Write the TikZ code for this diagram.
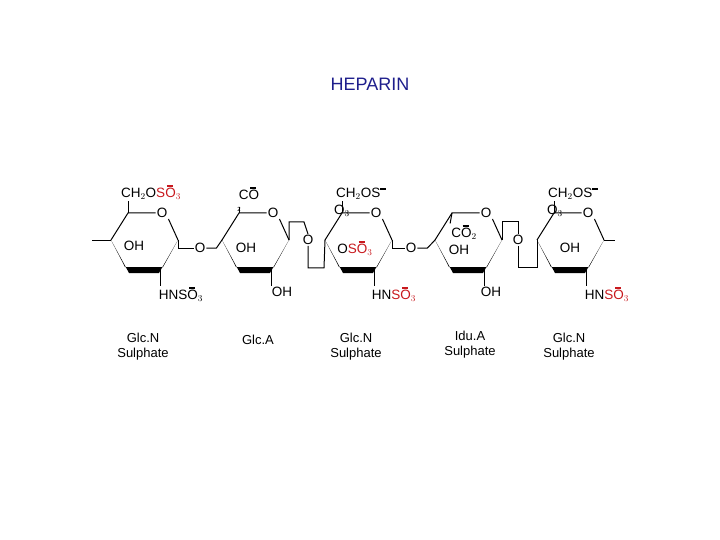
\documentclass[tikz,border=0pt]{standalone}
\usepackage{fontspec}
\setmainfont{Liberation Sans}
\definecolor{ttl}{HTML}{1E1E8C}
\definecolor{rd}{HTML}{C8191E}
\newcommand\bO{\makebox[0pt][l]{\hspace{0.12em}\raisebox{0.78em}{\rule{0.45em}{2pt}}}O}
\newcommand\mS{S\raisebox{0.55em}{\rule{0.4em}{2pt}}}
\newcommand\ringat[2]{%
  \coordinate (#1L) at (#2,240);
  \coordinate (#1UL) at (#2+17,213);
  \node[lbl] (#1O) at (#2+51,213) {O};
  \coordinate (#1R) at (#2+67,240);
  \coordinate (#1BR) at (#2+49,270);
  \coordinate (#1BL) at (#2+17,270);
  \draw[bond] (#1L) -- (#1UL) -- (#1O.west);
  \draw[bond] (#1O.south east) -- (#1R);
  \fill (#1L) -- ($(#1BL)+(-3,-3)$) -- ($(#1BR)+(3,-3)$) -- (#1R) -- ($(#1BR)+(-1,3)$) -- ($(#1BL)+(1,3)$) -- cycle;
}
\usetikzlibrary{calc}
\begin{document}
\begin{tikzpicture}[x=1pt,y=-1pt,
  lbl/.style={font=\fontsize{13.5}{13.5}\selectfont,inner sep=1pt},
  captxt/.style={font=\fontsize{13}{15}\selectfont,align=center,inner sep=0pt},
  bond/.style={line width=1pt}]
\useasboundingbox (0,0) rectangle (720,540);
\node[font=\fontsize{18}{18}\selectfont,text=ttl] (title) at (370,84) {HEPARIN};
\ringat{a}{111}
\ringat{b}{222}
\ringat{c}{325}
\ringat{d}{435}
\ringat{e}{537}
% ring a
\coordinate (aend) at (92,240);
\draw[bond] (aend) -- (aL);
\node[lbl,anchor=south] (aCH) at (151,201) {CH$_2$O\textcolor{rd}{S\bO$_3$}};
\draw[bond] (aUL) -- (aUL|-aCH.south);
\node[lbl] (aOH) at (134,246) {OH};
\node[lbl,anchor=north] (aN) at (181,286) {HNS\bO$_3$};
\draw[bond] (aBR) -- (aBR|-aN.north);
\node[lbl] (ab) at (200,248) {O};
\draw[bond] (aR) -- ++(0,8) -- (ab.west);
\draw[bond] (ab.east) -- ++(10,0) -- (bL);
% ring b
\node[lbl,anchor=south] (bCO) at (249,201) {C\bO};
\node[font=\fontsize{6}{6}\selectfont,inner sep=0pt] (b2) at (239,209) {2};
\draw[bond] (bUL) -- (b2.north);
\node[lbl] (bOH) at (246,248) {OH};
\node[lbl,anchor=north] (bOH2) at (282,286) {OH};
\draw[bond] (bBR) -- (bBR|-bOH2.north);
\node[lbl] (bc) at (308,240) {O};
\draw[bond] (bR) -- ++(0,-18) -- ++(15,0) -- (bc.north);
\draw[bond] (bc.south) -- ++(0,22) -- ++(16,0) -- (cL);
% ring c
\node[lbl,anchor=south] (cCH) at (361,201) {CH$_2$O\mS};
\node[lbl] (cO3) at (342,211) {O$_3$};
\draw[bond] (cUL) -- (cUL|-cCH.south);
\node[lbl] (cOS) at (355,248) {O\textcolor{rd}{S\bO$_3$}};
\node[lbl,anchor=north] (cN) at (394,286) {HN\textcolor{rd}{S\bO$_3$}};
\draw[bond] (cBR) -- (cBR|-cN.north);
\node[lbl] (cd) at (411,248) {O};
\draw[bond] (cR) -- ++(0,8) -- (cd.west);
\draw[bond] (cd.east) -- ++(10,0) -- (dL);
% ring d
\node[lbl] (dCO) at (464,232) {C\bO$_2$};
\node[lbl] (dOH) at (459,250) {OH};
\draw[bond] (dUL) -- (dCO.north west);
\node[lbl,anchor=north] (dOH2) at (491,286) {OH};
\draw[bond] (dBR) -- (dBR|-dOH2.north);
\node[lbl] (de) at (518,240) {O};
\draw[bond] (dR) -- ++(0,-18) -- ++(16,0) -- (de.north);
\draw[bond] (de.south) -- ++(0,22) -- ++(19,0) -- (eL);
% ring e
\node[lbl,anchor=south] (eCH) at (573,201) {CH$_2$O\mS};
\node[lbl] (eO3) at (555,211) {O$_3$};
\draw[bond] (eUL) -- (eUL|-eCH.south);
\node[lbl] (eOH) at (570,248) {OH};
\node[lbl,anchor=north] (eN) at (607,286) {HN\textcolor{rd}{S\bO$_3$}};
\draw[bond] (eBR) -- (eBR|-eN.north);
\coordinate (eend) at (615,240);
\draw[bond] (eR) -- (eend);
% captions
\node[captxt] (k1) at (143,347) {Glc.N\\Sulphate};
\node[captxt] (k2) at (258,340) {Glc.A};
\node[captxt] (k3) at (356,347) {Glc.N\\Sulphate};
\node[captxt] (k4) at (470,345) {Idu.A\\Sulphate};
\node[captxt] (k5) at (569,347) {Glc.N\\Sulphate};
\end{tikzpicture}
\end{document}
